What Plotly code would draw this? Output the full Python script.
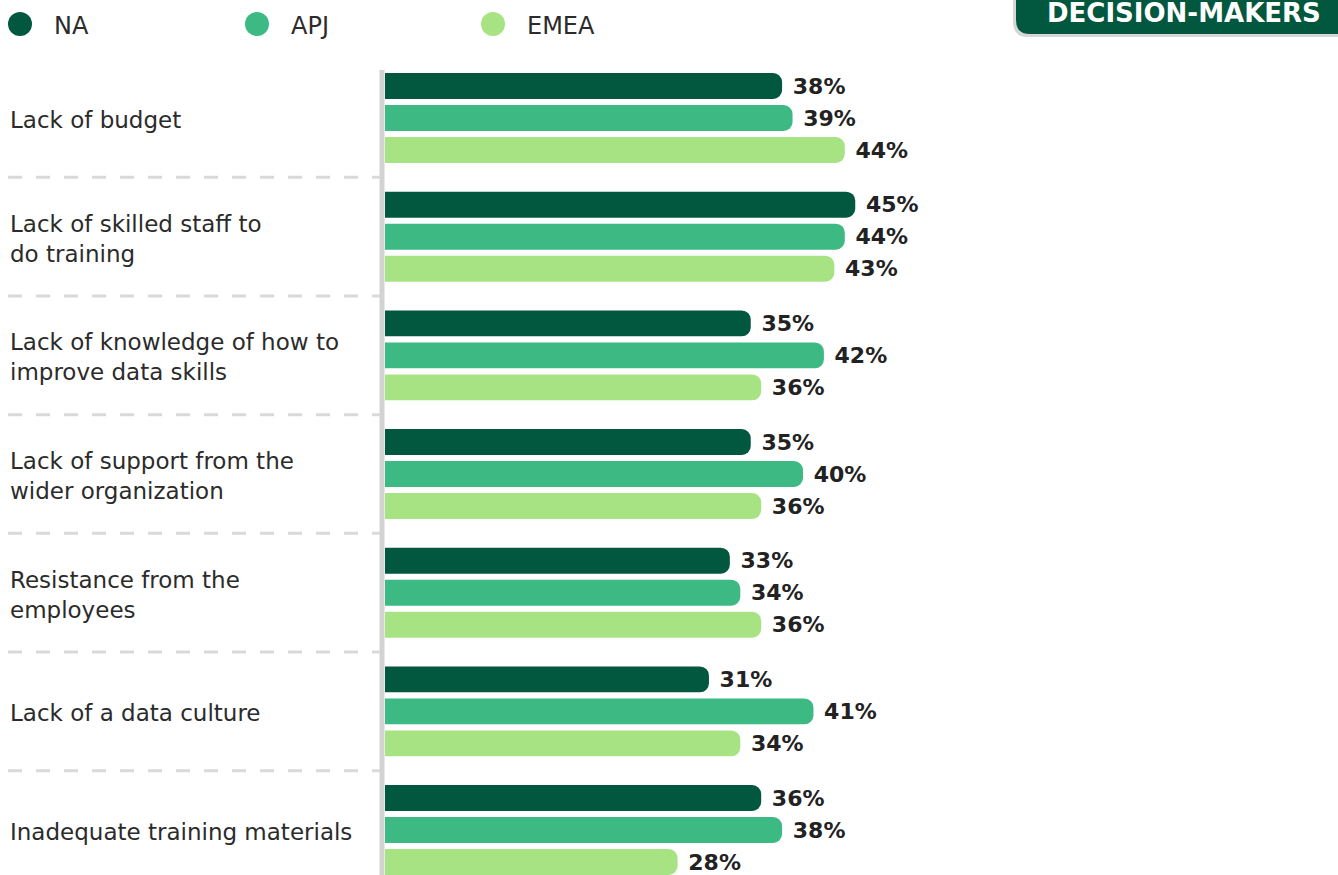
import plotly.graph_objects as go

categories = [
    "Lack of budget",
    "Lack of skilled staff to<br>do training",
    "Lack of knowledge of how to<br>improve data skills",
    "Lack of support from the<br>wider organization",
    "Resistance from the<br>employees",
    "Lack of a data culture",
    "Inadequate training materials",
]
series_names = ["NA", "APJ", "EMEA"]
na_values = [38, 45, 35, 35, 33, 31, 36]
apj_values = [39, 44, 42, 40, 34, 41, 38]
emea_values = [44, 43, 36, 36, 36, 34, 28]
colors = ["#02573F", "#3DBA83", "#A7E383"]
badge_text = "DECISION-MAKERS"

W, H = 1338, 875
ML, MT = 385, 70
PW, PH = W - ML, H - MT
PX_PER_PCT = 10.45
GROUP_PX = 118.67
FIRST_CENTER = 118

def px_x(p):
    return (p - ML) / PW

def px_y(q):
    return 1 - (q - MT) / PH

FONT = "DejaVu Sans"
fig = go.Figure()
idx = list(range(len(categories)))
for name, vals, col in zip(series_names, [na_values, apj_values, emea_values], colors):
    fig.add_trace(go.Bar(
        y=idx, x=vals, name=name, orientation="h",
        marker=dict(color=col, cornerradius=9, line=dict(width=0)),
        texttemplate=" %{x}%", textposition="outside",
        textfont=dict(family=FONT, size=22, color="#222222", weight="bold"),
        cliponaxis=False, showlegend=False,
    ))

top_val = -(FIRST_CENTER - MT) / GROUP_PX
bot_val = top_val + PH / GROUP_PX

shapes = []
annotations = []
# axis line
shapes.append(dict(type="line", xref="paper", yref="paper",
                   x0=px_x(382), x1=px_x(382), y0=1, y1=0,
                   line=dict(color="#D3D3D3", width=5)))
# dashed separators
for i in range(len(categories) - 1):
    shapes.append(dict(type="line", xref="paper", yref="y",
                       x0=px_x(8), x1=px_x(380), y0=i + 0.5, y1=i + 0.5,
                       line=dict(color="#D9D9D9", width=3, dash="14px,14px")))

# legend (drawn)
legend_x = [20, 257, 493]
for name, col, lx in zip(series_names, colors, legend_x):
    shapes.append(dict(type="circle", xref="paper", yref="paper",
                       x0=px_x(lx - 12), x1=px_x(lx + 12),
                       y0=px_y(12), y1=px_y(36),
                       fillcolor=col, line=dict(width=0)))
    annotations.append(dict(
        x=px_x(lx + 32), y=px_y(26), xref="paper", yref="paper", text=name,
        showarrow=False, xanchor="left", yanchor="middle",
        font=dict(family=FONT, size=24, color="#2B2B2B"),
    ))

# badge with shadow
def rounded_path(x0, y0, x1, y1, r):
    X0, X1 = px_x(x0), px_x(x1)
    Y0, Y1 = px_y(y0), px_y(y1)
    rx = r / PW
    ry = r / PH
    return (f"M {X0},{Y0} L {X1},{Y0} L {X1},{Y1} L {X0+rx},{Y1} "
            f"Q {X0},{Y1} {X0},{Y1+ry} Z")

shapes.append(dict(type="path", xref="paper", yref="paper",
                   path=rounded_path(1013, -20, 1345, 37, 15),
                   fillcolor="#D6D6D6", line=dict(width=0)))
shapes.append(dict(type="path", xref="paper", yref="paper",
                   path=rounded_path(1016, -20, 1345, 34, 14),
                   fillcolor="#02573F", line=dict(width=0)))

for i, c in enumerate(categories):
    annotations.append(dict(
        x=px_x(8), y=i, xref="paper", yref="y", text=c, showarrow=False,
        xanchor="left", yanchor="middle", align="left", yshift=-2,
        font=dict(family=FONT, size=23, color="#2B2B2B"),
    ))
annotations.append(dict(
    x=px_x(1184), y=px_y(13), xref="paper", yref="paper", text=badge_text,
    showarrow=False, xanchor="center", yanchor="middle", borderpad=0,
    font=dict(family=FONT, size=26, color="white", weight="bold"),
))

fig.update_layout(
    width=W, height=H,
    margin=dict(l=ML, r=0, t=MT, b=0, pad=0),
    paper_bgcolor="white", plot_bgcolor="white",
    barmode="group", bargap=0.191, bargroupgap=0.19,
    xaxis=dict(range=[0, PW / PX_PER_PCT], visible=False, fixedrange=True),
    yaxis=dict(range=[bot_val, top_val], visible=False, fixedrange=True),
    shapes=shapes, annotations=annotations,
    showlegend=False,
)

fig.write_html("out.html")
